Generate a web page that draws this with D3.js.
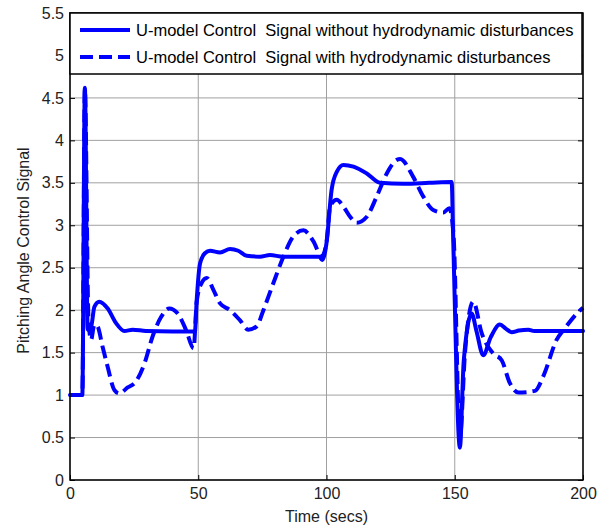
<!DOCTYPE html>
<html>
<head>
<meta charset="utf-8">
<script src="https://cdn.jsdelivr.net/npm/d3@7"></script>
<style>
  body { margin: 0; background: #fff; }
  svg { font-family: "Liberation Sans", Arial, sans-serif; }
</style>
</head>
<body>
<div id="chart"></div>
<script>
// U-model control signal, no disturbances (solid)
const timeSolid = [0, 4.8, 5.8, 6.9, 8.2, 9.5, 11.4, 14.7, 17.9, 21.2, 24.4, 29.6, 40, 48.7,
    49.4, 50.7, 52.6, 54.6, 58.5, 62.4, 65.6, 68.9, 74, 78, 83, 97.2, 98.3,
    100, 102, 104, 106.6, 110.5, 115.7, 120.9, 130, 140, 148.8,
    149.4, 152, 153.5, 156.6, 158.5, 161.1, 164, 167.6, 170, 172.2, 175, 178.7, 181, 200];
const valSolid = [1, 1, 4.62, 1.77, 1.8, 2.04, 2.1, 2.02, 1.85, 1.755, 1.77, 1.755, 1.75, 1.75,
    2.12, 2.55, 2.67, 2.7, 2.68, 2.72, 2.7, 2.64, 2.63, 2.65, 2.63, 2.63, 2.59,
    2.79, 3.42, 3.63, 3.71, 3.69, 3.61, 3.5, 3.49, 3.5, 3.51,
    2.83, 0.38, 1.4, 1.96, 1.75, 1.47, 1.68, 1.83, 1.78, 1.74, 1.76, 1.77, 1.755, 1.755];

// U-model control signal with hydrodynamic disturbances (dashed)
const timeDashed = [0, 4.8, 5.8, 7.2, 8.2, 9.5, 10.7, 12.7, 14.7, 17.3, 19.2, 22.5, 25.7, 29, 32.2,
    35.5, 38.7, 42, 45.2, 48.2, 49.4, 51.3, 53.3, 55.9, 58.5, 62.4, 66.3, 69.5, 72.8,
    75.4, 79.3, 83.2, 87.1, 91, 94.9, 98.1, 100, 101.4, 104, 106.6, 109.2, 111.8,
    115.7, 119.6, 123.5, 127.4, 128.7, 133.8, 137.7, 141.6, 145.5, 147.9,
    149.5, 152, 154, 157.2, 160.5, 165, 168.3, 171.5, 174.8, 181.3, 184.5,
    189.7, 193, 198.2, 200];
const valDashed = [1, 1, 4.6, 1.9, 1.65, 1.83, 1.81, 1.57, 1.33, 1.06, 1.02, 1.09, 1.16, 1.37, 1.69,
    1.92, 2.02, 1.96, 1.77, 1.55, 2.1, 2.32, 2.38, 2.24, 2.08, 2.0, 1.88, 1.77, 1.81,
    2.0, 2.32, 2.63, 2.87, 2.94, 2.81, 2.63, 2.8, 3.22, 3.3, 3.22, 3.1, 3.03,
    3.1, 3.34, 3.61, 3.77, 3.78, 3.57, 3.34, 3.18, 3.15, 3.2,
    2.9, 0.5, 1.5, 2.1, 1.73, 1.49, 1.41, 1.14, 1.03, 1.05, 1.22,
    1.65, 1.79, 1.98, 2.03];

const xTicks = [0, 50, 100, 150, 200];
const yTicks = [0, 0.5, 1, 1.5, 2, 2.5, 3, 3.5, 4, 4.5, 5, 5.5];
const legendLabels = [
    'U-model Control  Signal without hydrodynamic disturbances',
    'U-model Control  Signal with hydrodynamic disturbances'
];

const width = 607, height = 527;
const margin = { top: 13, right: 24, bottom: 47, left: 70 };
const innerW = width - margin.left - margin.right;
const innerH = height - margin.top - margin.bottom;
const fontSize = '16px';

const svg = d3.select('#chart')
    .append('svg')
    .attr('width', width)
    .attr('height', height);

const g = svg.append('g')
    .attr('transform', `translate(${margin.left},${margin.top})`);

const x = d3.scaleLinear().domain([0, 200]).range([0, innerW]);
const y = d3.scaleLinear().domain([0, 5.5]).range([innerH, 0]);

// grid
g.append('g')
    .selectAll('line')
    .data(yTicks)
    .join('line')
    .attr('x1', 0).attr('x2', innerW)
    .attr('y1', d => y(d)).attr('y2', d => y(d))
    .style('stroke', '#a0a0a0')
    .style('stroke-width', 1);
g.append('g')
    .selectAll('line')
    .data(xTicks)
    .join('line')
    .attr('y1', 0).attr('y2', innerH)
    .attr('x1', d => x(d)).attr('x2', d => x(d))
    .style('stroke', '#a0a0a0')
    .style('stroke-width', 1);

// axes with inward ticks
const fmt = d => String(d);
g.append('g')
    .call(d3.axisLeft(y).tickValues(yTicks).tickFormat(fmt).tickSize(-5).tickPadding(6));
g.append('g')
    .attr('transform', `translate(${innerW},0)`)
    .call(d3.axisRight(y).tickValues(yTicks).tickFormat('').tickSize(-5));
g.append('g')
    .attr('transform', `translate(0,${innerH})`)
    .call(d3.axisBottom(x).tickValues(xTicks).tickFormat(fmt).tickSize(-5).tickPadding(8));

g.selectAll('.domain').remove();
g.selectAll('.tick line').style('stroke', '#000');
g.selectAll('.tick text')
    .style('font-size', fontSize)
    .style('fill', '#222')
    .style('font-family', '"Liberation Sans", Arial, sans-serif');

// data lines
const line = d3.line()
    .curve(d3.curveMonotoneX)
    .x(d => x(d[0]))
    .y(d => y(d[1]));

const solidPts = timeSolid.map((t, i) => [t, valSolid[i]]);
const dashedPts = timeDashed.map((t, i) => [t, valDashed[i]]);

g.append('path')
    .datum(solidPts)
    .attr('d', line)
    .style('fill', 'none')
    .style('stroke', '#0000ff')
    .style('stroke-width', 4)
    .style('stroke-linejoin', 'round')
    .style('stroke-linecap', 'round');

g.append('path')
    .datum(dashedPts)
    .attr('d', line)
    .style('fill', 'none')
    .style('stroke', '#0000ff')
    .style('stroke-width', 4)
    .style('stroke-dasharray', '13,6')
    .style('stroke-linejoin', 'round');

// box
g.append('rect')
    .attr('width', innerW)
    .attr('height', innerH)
    .style('fill', 'none')
    .style('stroke', '#000')
    .style('stroke-width', 1.5);

// legend
const legend = g.append('g');
legend.append('rect')
    .attr('x', 0).attr('y', 0)
    .attr('width', innerW - 1).attr('height', 61)
    .style('fill', '#fff')
    .style('stroke', '#000')
    .style('stroke-width', 1.5);

legendLabels.forEach((label, i) => {
    const ly = 17 + i * 27;
    legend.append('line')
        .attr('x1', 10).attr('x2', 60)
        .attr('y1', ly).attr('y2', ly)
        .style('stroke', '#0000ff')
        .style('stroke-width', 4)
        .style('stroke-dasharray', i === 1 ? '13,6' : null);
    legend.append('text')
        .attr('x', 66).attr('y', ly)
        .attr('dy', '0.35em')
        .style('font-size', '16.5px')
        .style('fill', '#000')
        .style('white-space', 'pre')
        .attr('xml:space', 'preserve')
        .text(label);
});

// axis titles
svg.append('text')
    .attr('x', margin.left + innerW / 2)
    .attr('y', 522)
    .attr('text-anchor', 'middle')
    .style('font-size', fontSize)
    .style('fill', '#222')
    .text('Time (secs)');

svg.append('text')
    .attr('transform', `translate(29,${margin.top + innerH / 2 + 4}) rotate(-90)`)
    .attr('text-anchor', 'middle')
    .style('font-size', fontSize)
    .style('fill', '#222')
    .text('Pitching Angle Control Signal');
</script>
</body>
</html>
